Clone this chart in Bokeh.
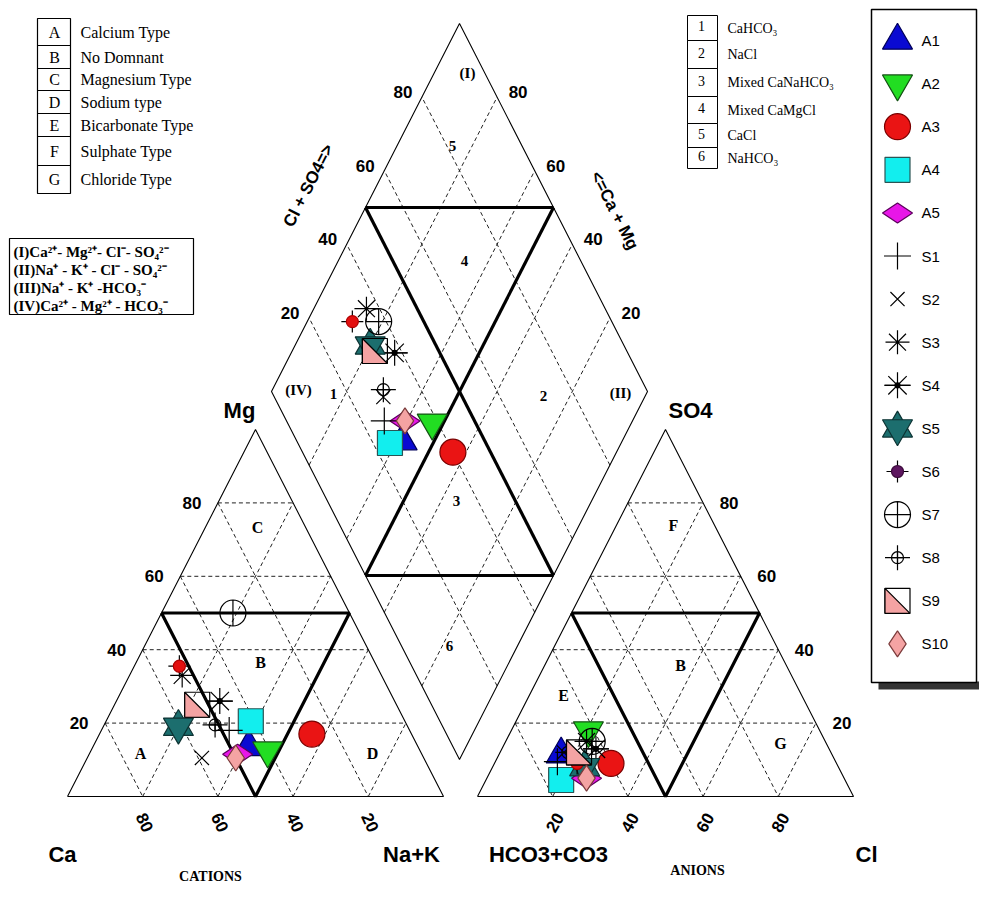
import math
from bokeh.plotting import figure
from bokeh.models import Range1d
from bokeh.core.properties import value
from bokeh.embed import file_html
from bokeh.resources import INLINE

# ---------------- data (percent of meq) ----------------
samples = ["A1", "A2", "A3", "A4", "A5", "S1", "S2", "S3", "S4", "S5", "S6", "S7", "S8", "S9", "S10"]
ca   = [45.0, 40.5, 26.5, 41.0, 49.0, 48.0, 59.0, 53.0, 46.5, 61.0, 52.5, 31.0, 51.0, 53.0, 50.0]
mg   = [13.5, 12.5, 17.0, 20.5, 11.5, 18.0, 10.5, 33.0, 26.0, 19.0, 35.5, 50.0, 19.5, 25.0, 10.5]
nak  = [41.5, 47.0, 56.5, 38.5, 39.5, 34.0, 30.5, 14.0, 27.5, 20.0, 12.0, 19.0, 29.5, 22.0, 39.5]
hco3 = [72.0, 61.5, 60.0, 75.5, 68.5, 74.0, 71.0, 63.5, 62.0, 67.5, 69.0, 62.0, 70.0, 67.0, 68.5]
so4  = [11.5, 18.0, 9.0, 4.5, 5.0, 9.5, 12.0, 15.0, 13.0, 8.0, 9.0, 15.0, 12.0, 12.0, 5.0]
cl   = [16.5, 20.5, 31.0, 20.0, 26.5, 16.5, 17.0, 21.5, 25.0, 24.5, 22.0, 23.0, 18.0, 21.0, 26.5]

grid_ticks = [20, 40, 60, 80]
tick_labels = ["20", "40", "60", "80"]

letter_codes = ["A", "B", "C", "D", "E", "F", "G"]
letter_names = ["Calcium Type", "No Domnant", "Magnesium Type", "Sodium type",
                "Bicarbonate Type", "Sulphate Type", "Chloride Type"]
number_codes = ["1", "2", "3", "4", "5", "6"]
number_names = ["CaHCO\u2083", "NaCl", "Mixed CaNaHCO\u2083", "Mixed CaMgCl", "CaCl", "NaHCO\u2083"]
ion_types = ["(I)Ca\u00b2\u207a- Mg\u00b2\u207a- Cl\u207b- SO\u2084\u00b2\u207b",
             "(II)Na\u207a - K\u207a - Cl\u207b - SO\u2084\u00b2\u207b",
             "(III)Na\u207a - K\u207a -HCO\u2083\u207b",
             "(IV)Ca\u00b2\u207a - Mg\u00b2\u207a - HCO\u2083\u207b"]

# ---------------- geometry (picture pixels) ----------------
CX0, AX0, BASE, SIDE, HGT = 67.0, 477.0, 796.0, 376.0, 367.0
DBX, DBY, DHW, DHH = 459.0, 759.0, 188.0, 368.0

def tern(x0, left, top, right):
    tot = left + top + right
    t = top / tot
    r = right / tot
    return x0 + SIDE * (r + t / 2.0), BASE - HGT * t

def dia(a, c):
    return DBX + DHW * (c - a), DBY - DHH * (a + c)

p = figure(width=979, height=885, x_range=Range1d(0, 979), y_range=Range1d(885, 0),
           output_backend="svg", toolbar_location=None, min_border=0,
           x_axis_location=None, y_axis_location=None)
p.grid.visible = False
p.outline_line_color = None
p.background_fill_color = "white"

SANS = value("Liberation Sans")
SERIF = value("Liberation Serif")

def txt(x, y, s, size, font=SANS, style="normal", align="center", base="middle", angle=0.0, color="black"):
    p.text(x=[x], y=[y], text=[s], text_font=font, text_font_size=size, text_font_style=style,
           text_align=align, text_baseline=base, angle=angle, text_color=color)

# ---------------- triangles and diamond ----------------
dash_xs, dash_ys = [], []
for x0 in (CX0, AX0):
    for v in grid_ticks:
        for a, b in (((100 - v, v, 0), (0, v, 100 - v)),
                     ((v, 100 - v, 0), (v, 0, 100 - v)),
                     ((100 - v, 0, v), (0, 100 - v, v))):
            pa, pb = tern(x0, *a), tern(x0, *b)
            dash_xs.append([pa[0], pb[0]])
            dash_ys.append([pa[1], pb[1]])
for v in grid_ticks:
    f = v / 100.0
    for pa, pb in ((dia(f, 0), dia(f, 1)), (dia(0, f), dia(1, f))):
        dash_xs.append([pa[0], pb[0]])
        dash_ys.append([pa[1], pb[1]])
p.multi_line(dash_xs, dash_ys, line_color="#222222", line_width=1, line_dash="4 3")

out_xs, out_ys = [], []
for x0 in (CX0, AX0):
    pts = [tern(x0, 100, 0, 0), tern(x0, 0, 100, 0), tern(x0, 0, 0, 100), tern(x0, 100, 0, 0)]
    out_xs.append([q[0] for q in pts]); out_ys.append([q[1] for q in pts])
pts = [dia(0, 0), dia(1, 0), dia(1, 1), dia(0, 1), dia(0, 0)]
out_xs.append([q[0] for q in pts]); out_ys.append([q[1] for q in pts])
p.multi_line(out_xs, out_ys, line_color="black", line_width=1.1)

thick_xs, thick_ys = [], []
for x0 in (CX0, AX0):
    pts = [tern(x0, 50, 50, 0), tern(x0, 0, 50, 50), tern(x0, 50, 0, 50), tern(x0, 50, 50, 0)]
    thick_xs.append([q[0] for q in pts]); thick_ys.append([q[1] for q in pts])
for pa, pb in ((dia(1, .5), dia(.5, 1)), (dia(.5, 0), dia(0, .5)), (dia(.5, 0), dia(.5, 1)), (dia(0, .5), dia(1, .5))):
    thick_xs.append([pa[0], pb[0]]); thick_ys.append([pa[1], pb[1]])
p.multi_line(thick_xs, thick_ys, line_color="black", line_width=3.2)

# ---------------- tick labels ----------------
for v, lab in zip(grid_ticks, tick_labels):
    x, y = tern(CX0, v, 0, 100 - v)
    txt(x + 2, y + 26, lab, "17px", SANS, "bold", angle=-math.radians(65))
    x, y = tern(AX0, 100 - v, 0, v)
    txt(x + 2, y + 26, lab, "17px", SANS, "bold", angle=math.radians(60))
    x, y = tern(CX0, 100 - v, v, 0)
    txt(x - 26, y, lab, "17px", SANS, "bold")
    x, y = tern(AX0, 0, v, 100 - v)
    txt(x + 26, y, lab, "17px", SANS, "bold")
    x, y = dia(1, v / 100.0)
    txt(x - 19, y - 5, lab, "17px", SANS, "bold")
    x, y = dia(v / 100.0, 1)
    txt(x + 21, y - 5, lab, "17px", SANS, "bold")

ang = math.atan2(DHH, DHW)
txt(308, 185, "Cl + SO4=>", "17px", SANS, "bold", angle=ang)
txt(614, 210, "<=Ca + Mg", "17px", SANS, "bold", angle=-ang)

txt(239, 410, "Mg", "22px", SANS, "bold")
txt(690, 410, "SO4", "22px", SANS, "bold")
txt(62, 854, "Ca", "22px", SANS, "bold")
txt(411, 854, "Na+K", "22px", SANS, "bold")
txt(548, 854, "HCO3+CO3", "22px", SANS, "bold")
txt(866, 854, "Cl", "22px", SANS, "bold")
txt(210, 876, "CATIONS", "14px", SERIF, "bold")
txt(697, 870, "ANIONS", "14px", SERIF, "bold")

# zone letters
for s, x, y in (("C", 257, 527), ("B", 260, 662), ("A", 140, 753), ("D", 372, 753),
                ("F", 673, 525), ("B", 680, 665), ("E", 563, 695), ("G", 780, 743)):
    txt(x, y, s, "16px", SERIF, "bold")
for s, x, y in (("(I)", 467, 72), ("5", 452, 145), ("4", 464, 260), ("(IV)", 298, 389), ("1", 333, 393),
                ("2", 543, 395), ("(II)", 620, 392), ("3", 456, 500), ("6", 449, 645)):
    txt(x, y, s, "15px", SERIF, "bold")

# ---------------- info boxes ----------------
rows = [18, 45, 68, 90, 113, 136, 165, 193]
p.quad(left=[37] * 7, right=[70] * 7, top=rows[:-1], bottom=rows[1:], fill_color=None, line_color="black", line_width=1.2)
for i, (c, n) in enumerate(zip(letter_codes, letter_names)):
    ym = (rows[i] + rows[i + 1]) / 2.0
    txt(54, ym, c, "16px", SERIF)
    txt(80, ym, n, "16px", SERIF, align="left")

nrows = [15, 40, 68, 96, 123, 147, 168]
p.quad(left=[687] * 6, right=[717] * 6, top=nrows[:-1], bottom=nrows[1:], fill_color=None, line_color="black", line_width=1)
for i, (c, n) in enumerate(zip(number_codes, number_names)):
    ym = (nrows[i] + nrows[i + 1]) / 2.0
    txt(701, ym - 2, c, "14px", SERIF)
    txt(727, ym, n, "14px", SERIF, align="left")

p.quad(left=[9], right=[193], top=[238], bottom=[314], fill_color=None, line_color="black", line_width=1.2)
for i, s in enumerate(ion_types):
    txt(13, 251 + i * 18.3, s, "15px", SERIF, "bold", align="left")

# ---------------- markers ----------------
PINK = "#f4a3a3"
STY = {
    "A1": [("triangle", 30, "#0a0ad2", "#00005a", 0)],
    "A2": [("inverted_triangle", 30, "#22dd22", "#145214", 0)],
    "A3": [("circle", 26, "#ea1414", "#7a0000", 0)],
    "A4": [("square", 25, "#12eeee", "#2a5555", 0)],
    "A5": [("diamond", 30, "#e816e8", "#5a005a", math.pi / 2)],
    "S1": [("cross", 27, None, "black", 0)],
    "S2": [("x", 20, None, "black", 0)],
    "S3": [("asterisk", 24, None, "black", 0)],
    "S4": [("asterisk", 26, None, "black", 0), ("dash", 26, None, "black", 0), ("circle", 5, "black", "black", 0)],
    "S5": [("triangle", 30, "#1c6e6e", "#0d3333", 0), ("inverted_triangle", 30, "#1c6e6e", "#0d3333", 0)],
    "S6": [("cross", 22, None, "black", 0), ("circle", 12, "#e31010", "#b00000", 0)],
    "S7": [("circle_cross", 26, None, "black", 0)],
    "S8": [("cross", 25, None, "black", 0), ("circle_cross", 12, None, "black", 0)],
    "S9": [("square", 25, None, "black", 0)],
    "S10": [("diamond", 26, PINK, "#7a3a3a", 0)],
}

def draw_marker(name, xs, ys, legend=False):
    for mk, sz, fc, lc, an in STY[name]:
        if legend and name == "S6" and mk == "circle":
            fc, lc = "#5e1760", "#3a0a3a"
        p.scatter(xs, ys, marker=mk, size=sz, fill_color=fc, line_color=lc, angle=an,
                  line_width=1.2, fill_alpha=1.0 if fc else 0.0)
    if name == "S9":
        h = 12.5
        pxs = [[x - h, x - h, x + h] for x in xs]
        pys = [[y - h, y + h, y + h] for y in ys]
        p.patches(pxs, pys, fill_color=PINK, line_color="black", line_width=1.2)

cat_pts = [tern(CX0, a, b, c) for a, b, c in zip(ca, mg, nak)]
an_pts = [tern(AX0, a, b, c) for a, b, c in zip(hco3, so4, cl)]
dia_pts = [dia((a + b) / 100.0, (c + d) / 100.0) for a, b, c, d in zip(ca, mg, cl, so4)]

for i, name in enumerate(samples):
    xs = [cat_pts[i][0], an_pts[i][0], dia_pts[i][0]]
    ys = [cat_pts[i][1], an_pts[i][1], dia_pts[i][1]]
    draw_marker(name, xs, ys)

# ---------------- legend ----------------
p.quad(left=[878], right=[979], top=[681], bottom=[689], fill_color="#333333", line_color=None)
p.quad(left=[871], right=[976], top=[9], bottom=[682], fill_color="white", line_color="black", line_width=1.5)
for i, name in enumerate(samples):
    y = 40 + 43.1 * i
    draw_marker(name, [897], [y], legend=True)
    txt(921, y, name, "15px", SANS, align="left")

open("out.html", "w").write(file_html(p, INLINE))
